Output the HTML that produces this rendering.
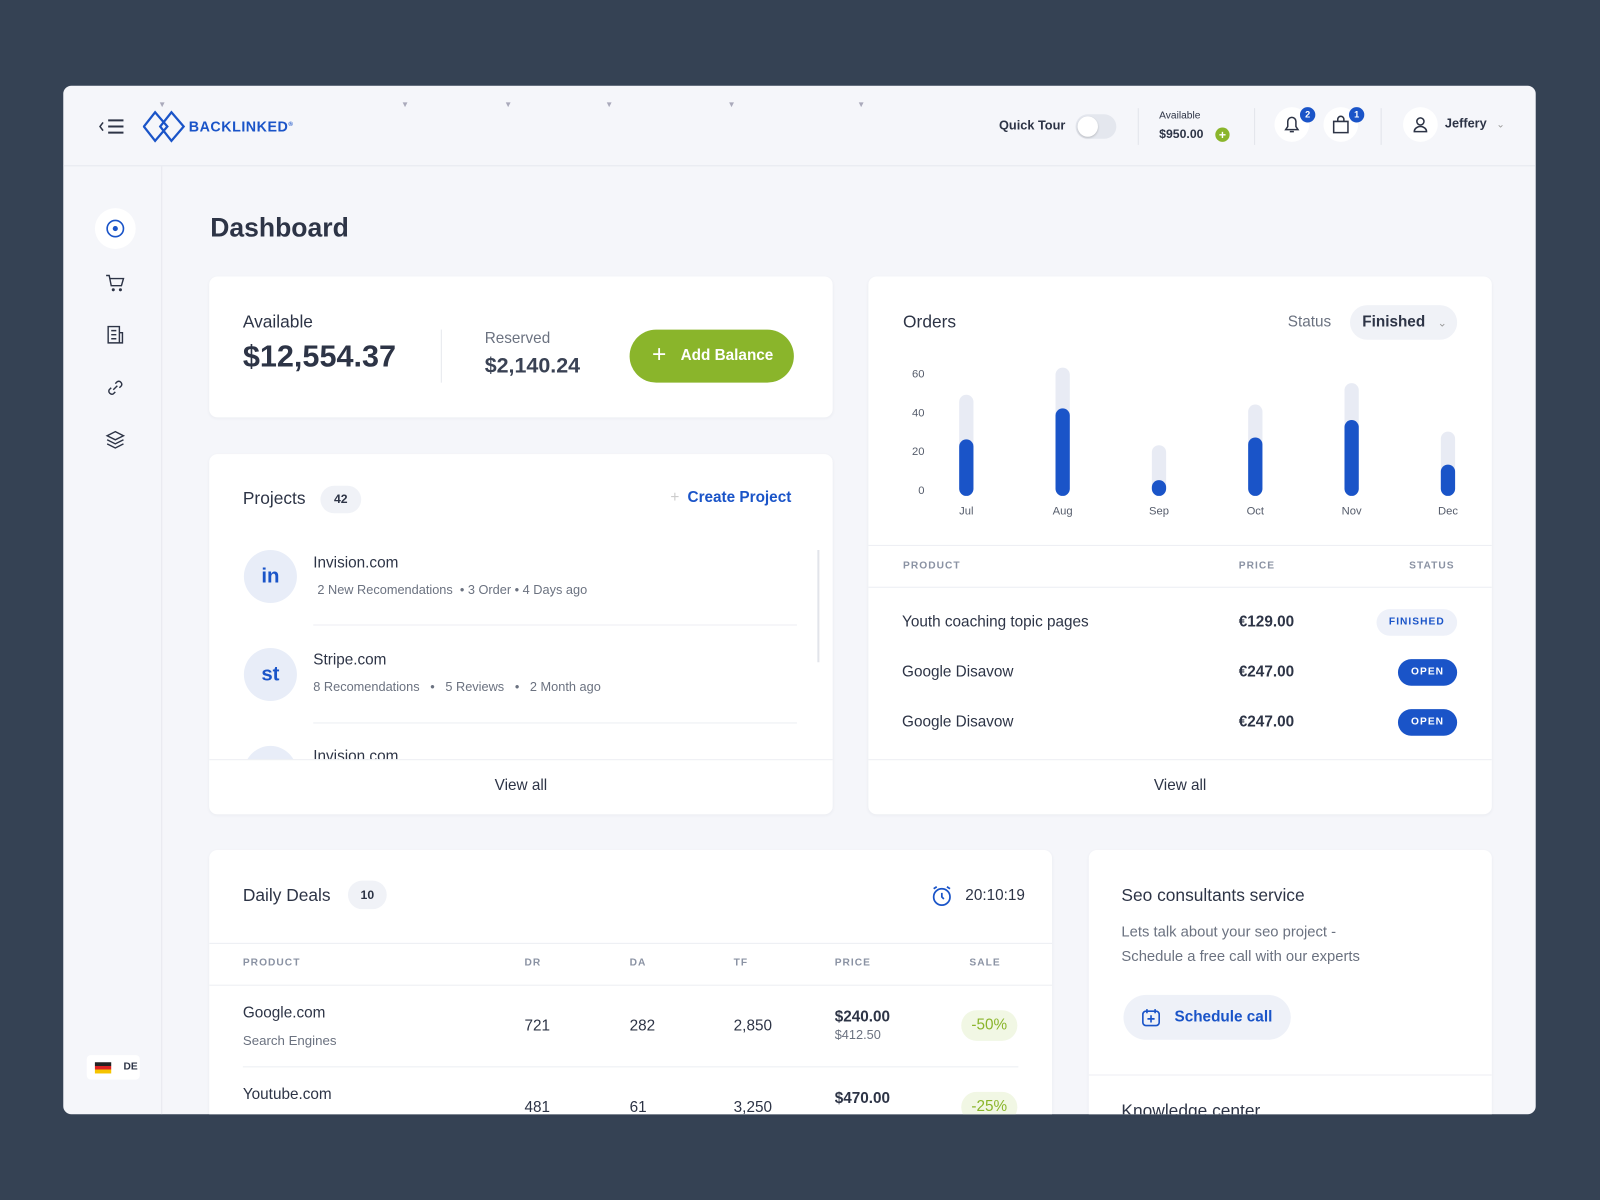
<!DOCTYPE html>
<html><head><meta charset="utf-8">
<style>
*{box-sizing:border-box;margin:0;padding:0}
html,body{width:1600px;height:1200px;overflow:hidden;background:#354254;font-family:"Liberation Sans",sans-serif;color:#2d3446}
#wrap{position:absolute;left:0;top:0;width:1568px;height:1176px;transform:scale(1.020408);transform-origin:0 0}
.a{position:absolute}
.card{position:absolute;background:#fff;border-radius:8px;box-shadow:0 1px 3px rgba(40,50,80,.05);overflow:hidden}
.muted{color:#6b7280}
.hd{font-size:10px;font-weight:bold;letter-spacing:1px;color:#8a92a3}
.line{position:absolute;height:1px;background:#eceef3}
.pill{position:absolute;border-radius:14px;font-size:10px;font-weight:bold;letter-spacing:1px;text-align:center}
</style></head><body>
<div id="wrap">
<div class="a" style="left:62px;top:84px;width:1443px;height:1008px;background:#f5f6fa;border-radius:8px;overflow:hidden">
  <div class="a" style="left:0;top:0;width:1443px;height:79px;border-bottom:1px solid #e6e8ee">
    <div class="a" style="left:34px;top:31px;width:28px;height:18px">
      <svg width="28" height="18"><path d="M5 5 L2 9 L5 13" stroke="#2d3446" stroke-width="1.5" fill="none"/><path d="M10 3h15M10 9h15M10 15h15" stroke="#2d3446" stroke-width="2"/></svg>
    </div>
    <div class="a" style="left:78px;top:24px;width:160px;height:32px">
      <svg width="42" height="32" class="a" style="left:0;top:0"><path d="M12 2 L24 16 L12 30 L1 16Z M28 2 L40 16 L28 30 L17 16Z" stroke="#1a54c8" stroke-width="2.2" fill="none"/></svg>
      <div class="a" style="left:45px;top:8px;font-size:14px;font-weight:bold;color:#1a54c8;letter-spacing:.5px">BACKLINKED<sup style="font-size:6px">®</sup></div>
    </div>
    <div class="a" style="left:93px;top:14px;font-size:8px;color:#aab">▼</div>
    <div class="a" style="left:331px;top:14px;font-size:8px;color:#aab">▼</div>
    <div class="a" style="left:432px;top:14px;font-size:8px;color:#aab">▼</div>
    <div class="a" style="left:531px;top:14px;font-size:8px;color:#aab">▼</div>
    <div class="a" style="left:651px;top:14px;font-size:8px;color:#aab">▼</div>
    <div class="a" style="left:778px;top:14px;font-size:8px;color:#aab">▼</div>
    <div class="a" style="left:917px;top:32px;font-size:12.5px;font-weight:bold">Quick Tour</div>
    <div class="a" style="left:992px;top:28px;width:40px;height:24px;border-radius:12px;background:#e4e7ee"><div class="a" style="left:2px;top:2px;width:20px;height:20px;border-radius:50%;background:#fff;box-shadow:0 1px 2px rgba(0,0,0,.2)"></div></div>
    <div class="a" style="left:1053px;top:22px;width:1px;height:36px;background:#e2e4ea"></div>
    <div class="a" style="left:1074px;top:24px;font-size:10px">Available</div>
    <div class="a" style="left:1074px;top:40px;font-size:12px;font-weight:bold">$950.00</div>
    <div class="a" style="left:1129px;top:41px;width:14px;height:14px;border-radius:50%;background:#8ab52b;color:#fff;font-size:12px;line-height:14px;text-align:center;font-weight:bold">+</div>
    <div class="a" style="left:1167px;top:22px;width:1px;height:36px;background:#e2e4ea"></div>
    <div class="a" style="left:1187px;top:21px;width:34px;height:34px;border-radius:50%;background:#fff">
      <svg width="34" height="34"><path d="M11 22 h12 l-2-3 v-5 a4 4 0 0 0-8 0 v5z M15 24 h4" stroke="#2d3446" stroke-width="1.5" fill="none"/></svg></div>
    <div class="a" style="left:1212px;top:21px;width:15px;height:15px;border-radius:50%;background:#1a54c8;color:#fff;font-size:9px;line-height:15px;text-align:center;font-weight:bold">2</div>
    <div class="a" style="left:1235px;top:21px;width:34px;height:34px;border-radius:50%;background:#fff">
      <svg width="34" height="34"><path d="M10 14 h14 v11 h-14z M14 14 v-2 a3 3 0 0 1 6 0 v2" stroke="#2d3446" stroke-width="1.5" fill="none"/></svg></div>
    <div class="a" style="left:1260px;top:21px;width:15px;height:15px;border-radius:50%;background:#1a54c8;color:#fff;font-size:9px;line-height:15px;text-align:center;font-weight:bold">1</div>
    <div class="a" style="left:1291px;top:22px;width:1px;height:36px;background:#e2e4ea"></div>
    <div class="a" style="left:1313px;top:21px;width:34px;height:34px;border-radius:50%;background:#fff">
      <svg width="34" height="34"><circle cx="17" cy="14" r="3.5" stroke="#2d3446" stroke-width="1.5" fill="none"/><path d="M11 24 a6 5 0 0 1 12 0z" stroke="#2d3446" stroke-width="1.5" fill="none"/></svg></div>
    <div class="a" style="left:1354px;top:30px;font-size:12.5px;font-weight:bold">Jeffery <span style="color:#999;font-weight:normal;font-size:10px;margin-left:6px">⌄</span></div>
  </div>
  <div class="a" style="left:0;top:79px;width:97px;height:929px;border-right:1px solid #e6e8ee">
    <div class="a" style="left:31px;top:41px;width:40px;height:40px;border-radius:50%;background:#fff"><svg width="40" height="40"><circle cx="20" cy="20" r="8" stroke="#1a54c8" stroke-width="1.6" fill="none"/><circle cx="20" cy="20" r="2.5" fill="#1a54c8"/></svg></div>
    <div class="a" style="left:41px;top:104px"><svg width="20" height="20"><path d="M1 3h3l2 10h10l2-7H5" stroke="#2d3446" stroke-width="1.4" fill="none"/><circle cx="8" cy="17" r="1.5" fill="#2d3446"/><circle cx="15" cy="17" r="1.5" fill="#2d3446"/></svg></div>
    <div class="a" style="left:41px;top:155px"><svg width="20" height="20"><path d="M3 2h11v16H3z M6 6h5M6 10h5M6 14h5 M14 8h3v10h-3" stroke="#2d3446" stroke-width="1.4" fill="none"/></svg></div>
    <div class="a" style="left:41px;top:207px"><svg width="20" height="20"><path d="M8 12 l4-4 M6 10 l-2 2 a3 3 0 0 0 4 4 l2-2 M14 10 l2-2 a3 3 0 0 0-4-4 l-2 2" stroke="#2d3446" stroke-width="1.4" fill="none"/></svg></div>
    <div class="a" style="left:41px;top:258px"><svg width="20" height="20"><path d="M10 2 L18 6 L10 10 L2 6Z M2 10 L10 14 L18 10 M2 14 L10 18 L18 14" stroke="#2d3446" stroke-width="1.4" fill="none"/></svg></div>
    <div class="a" style="left:23px;top:871px;width:52px;height:24px;background:#fff;border-radius:4px;font-size:10px;font-weight:bold;line-height:24px;padding-left:36px">DE
      <div class="a" style="left:8px;top:7px;width:16px;height:11px;background:linear-gradient(#222 33%,#d22 33% 66%,#f5c400 66%)"></div></div>
  </div>
  <div class="a" style="left:144px;top:124px;font-size:26px;font-weight:bold;color:#2d3446">Dashboard</div>
</div>

<div class="card" style="left:205px;top:271px;width:611px;height:138px">
  <div class="a" style="left:33px;top:35px;font-size:17px">Available</div>
  <div class="a" style="left:33px;top:62px;font-size:30px;font-weight:bold">$12,554.37</div>
  <div class="a" style="left:227px;top:52px;width:1px;height:52px;background:#e6e8ee"></div>
  <div class="a muted" style="left:270px;top:52px;font-size:15px">Reserved</div>
  <div class="a" style="left:270px;top:76px;font-size:21px;font-weight:bold;color:#3a4254">$2,140.24</div>
  <div class="a" style="left:412px;top:52px;width:161px;height:52px;border-radius:26px;background:#8ab52b;color:#fff;font-size:15px;font-weight:bold;line-height:52px;padding-left:50px">Add Balance<span class="a" style="left:22px;top:-1px;font-size:24px;font-weight:normal">+</span></div>
</div>

<div class="card" style="left:205px;top:445px;width:611px;height:353px">
  <div class="a" style="left:33px;top:34px;font-size:17px">Projects</div>
  <div class="a" style="left:109px;top:31px;width:40px;height:27px;border-radius:14px;background:#f0f2f7;font-size:12px;font-weight:bold;text-align:center;line-height:27px">42</div>
  <div class="a" style="left:452px;top:34px;font-size:15px;color:#1a54c8;font-weight:bold"><span style="color:#ccc;font-weight:normal;margin-right:8px">+</span>Create Project</div>
  <div class="a" style="left:34px;top:94px;width:52px;height:52px;border-radius:50%;background:#e8edf8;color:#1a54c8;font-size:20px;font-weight:bold;text-align:center;line-height:52px">in</div>
  <div class="a" style="left:102px;top:98px;font-size:15px">Invision.com</div>
  <div class="a muted" style="left:106px;top:126px;font-size:12.5px">2 New Recomendations &nbsp;• 3 Order • 4 Days ago</div>
  <div class="line" style="left:102px;top:167px;width:474px"></div>
  <div class="a" style="left:34px;top:190px;width:52px;height:52px;border-radius:50%;background:#e8edf8;color:#1a54c8;font-size:20px;font-weight:bold;text-align:center;line-height:52px">st</div>
  <div class="a" style="left:102px;top:193px;font-size:15px">Stripe.com</div>
  <div class="a muted" style="left:102px;top:221px;font-size:12.5px">8 Recomendations &nbsp;&nbsp;• &nbsp;&nbsp;5 Reviews &nbsp;&nbsp;• &nbsp;&nbsp;2 Month ago</div>
  <div class="line" style="left:102px;top:263px;width:474px"></div>
  <div class="a" style="left:34px;top:286px;width:52px;height:52px;border-radius:50%;background:#e8edf8"></div>
  <div class="a" style="left:102px;top:288px;font-size:15px">Invision.com</div>
  <div class="a" style="left:596px;top:94px;width:2px;height:110px;background:#e2e4ea"></div>
  <div class="a" style="left:0;top:299px;width:611px;height:54px;background:#fff;border-top:1px solid #eceef3"></div>
  <div class="a" style="left:0;top:316px;width:611px;text-align:center;font-size:15px">View all</div>
</div>

<div class="card" style="left:851px;top:271px;width:611px;height:527px">
  <div class="a" style="left:34px;top:35px;font-size:17px">Orders</div>
  <div class="a muted" style="left:411px;top:36px;font-size:15px">Status</div>
  <div class="a" style="left:472px;top:28px;width:105px;height:34px;border-radius:17px;background:#f0f2f7;font-size:15px;font-weight:bold;line-height:34px;padding-left:12px">Finished <span style="color:#999;font-weight:normal;font-size:11px;margin-left:8px">⌄</span></div>
  <svg id="chart" class="a" style="left:0;top:80px" width="611" height="160"></svg>
  <div class="line" style="left:0;top:263px;width:611px"></div>
  <div class="a hd" style="left:34px;top:278px">PRODUCT</div>
  <div class="a hd" style="left:363px;top:278px">PRICE</div>
  <div class="a hd" style="left:530px;top:278px">STATUS</div>
  <div class="line" style="left:0;top:304px;width:611px"></div>
  <div class="a" style="left:33px;top:330px;font-size:15px">Youth coaching topic pages</div>
  <div class="a" style="left:363px;top:330px;font-size:15px;font-weight:bold">€129.00</div>
  <div class="pill" style="left:498px;top:326px;width:79px;height:26px;line-height:26px;background:#eef1f9;color:#1a54c8">FINISHED</div>
  <div class="a" style="left:33px;top:379px;font-size:15px">Google Disavow</div>
  <div class="a" style="left:363px;top:379px;font-size:15px;font-weight:bold">€247.00</div>
  <div class="pill" style="left:519px;top:375px;width:58px;height:26px;line-height:26px;background:#1a54c8;color:#fff">OPEN</div>
  <div class="a" style="left:33px;top:428px;font-size:15px">Google Disavow</div>
  <div class="a" style="left:363px;top:428px;font-size:15px;font-weight:bold">€247.00</div>
  <div class="pill" style="left:519px;top:424px;width:58px;height:26px;line-height:26px;background:#1a54c8;color:#fff">OPEN</div>
  <div class="line" style="left:0;top:473px;width:611px"></div>
  <div class="a" style="left:0;top:490px;width:611px;text-align:center;font-size:15px">View all</div>
</div>

<div class="card" style="left:205px;top:833px;width:826px;height:259px;border-radius:8px 8px 0 0">
  <div class="a" style="left:33px;top:35px;font-size:17px">Daily Deals</div>
  <div class="a" style="left:136px;top:30px;width:38px;height:28px;border-radius:14px;background:#f0f2f7;font-size:12px;font-weight:bold;text-align:center;line-height:28px">10</div>
  <svg class="a" style="left:707px;top:34px" width="22" height="22"><circle cx="11" cy="12" r="8" stroke="#1a54c8" stroke-width="1.7" fill="none"/><path d="M11 8v4l2 2 M3 4l3-2 M19 4l-3-2" stroke="#1a54c8" stroke-width="1.7" fill="none"/></svg>
  <div class="a" style="left:741px;top:36px;font-size:15px">20:10:19</div>
  <div class="line" style="left:0;top:91px;width:826px"></div>
  <div class="a hd" style="left:33px;top:105px">PRODUCT</div>
  <div class="a hd" style="left:309px;top:105px">DR</div>
  <div class="a hd" style="left:412px;top:105px">DA</div>
  <div class="a hd" style="left:514px;top:105px">TF</div>
  <div class="a hd" style="left:613px;top:105px">PRICE</div>
  <div class="a hd" style="left:745px;top:105px">SALE</div>
  <div class="line" style="left:0;top:132px;width:826px"></div>
  <div class="a" style="left:33px;top:151px;font-size:15px">Google.com</div>
  <div class="a muted" style="left:33px;top:179px;font-size:13px">Search Engines</div>
  <div class="a" style="left:309px;top:164px;font-size:15px">721</div>
  <div class="a" style="left:412px;top:164px;font-size:15px">282</div>
  <div class="a" style="left:514px;top:164px;font-size:15px">2,850</div>
  <div class="a" style="left:613px;top:155px;font-size:15px;font-weight:bold">$240.00</div>
  <div class="a muted" style="left:613px;top:174px;font-size:12.5px">$412.50</div>
  <div class="a" style="left:737px;top:157px;width:55px;height:30px;border-radius:15px;background:#f1f7e4;color:#8ab52b;font-size:15px;text-align:center;line-height:30px">-50%</div>
  <div class="line" style="left:33px;top:212px;width:760px"></div>
  <div class="a" style="left:33px;top:231px;font-size:15px">Youtube.com</div>
  <div class="a" style="left:309px;top:244px;font-size:15px">481</div>
  <div class="a" style="left:412px;top:244px;font-size:15px">61</div>
  <div class="a" style="left:514px;top:244px;font-size:15px">3,250</div>
  <div class="a" style="left:613px;top:235px;font-size:15px;font-weight:bold">$470.00</div>
  <div class="a" style="left:737px;top:237px;width:55px;height:30px;border-radius:15px;background:#f1f7e4;color:#8ab52b;font-size:15px;text-align:center;line-height:30px">-25%</div>
</div>

<div class="card" style="left:1067px;top:833px;width:395px;height:259px;border-radius:8px 8px 0 0">
  <div class="a" style="left:32px;top:35px;font-size:17px">Seo consultants service</div>
  <div class="a muted" style="left:32px;top:69px;font-size:14.5px;line-height:24px">Lets talk about your seo project -<br>Schedule a free call with our experts</div>
  <div class="a" style="left:34px;top:142px;width:164px;height:44px;border-radius:22px;background:#eef1f8;color:#1a54c8;font-size:15px;font-weight:bold;line-height:44px;padding-left:50px">Schedule call
    <svg class="a" style="left:18px;top:13px" width="18" height="18"><rect x="1" y="3" width="16" height="14" rx="3" stroke="#1a54c8" stroke-width="1.6" fill="none"/><path d="M5 1v4M13 1v4M9 7v7M5.5 10.5h7" stroke="#1a54c8" stroke-width="1.6"/></svg></div>
  <div class="line" style="left:0;top:220px;width:395px"></div>
  <div class="a" style="left:32px;top:246px;font-size:17px">Knowledge center</div>
</div>
</div>

<script>
const months = ["Jul","Aug","Sep","Oct","Nov","Dec"];
const finished = [26,42,5,27,36,13];
const totals = [49,63,23,44,55,30];
const yTicks = [0,20,40,60];
const svg = document.getElementById('chart');
const NS = 'http://www.w3.org/2000/svg';
const y0 = 129, pxPerUnit = 1.9;
function yScale(v){return y0 - v*pxPerUnit;}
function xScale(i){return 96 + i*94.4;}
yTicks.forEach(t=>{
  const tx=document.createElementNS(NS,'text');
  
  
  tx.setAttribute('x',55);tx.setAttribute('y',yScale(t)+4);
  tx.setAttribute('text-anchor','end');tx.setAttribute('font-size','11');tx.setAttribute('fill','#555c6b');
  tx.textContent=t;svg.appendChild(tx);
});
months.forEach((m,i)=>{
  const cx=xScale(i), w=14;
  const bg=document.createElementNS(NS,'rect');
  
  
  bg.setAttribute('x',cx-w/2);bg.setAttribute('y',yScale(totals[i]));
  bg.setAttribute('width',w);bg.setAttribute('height',totals[i]*pxPerUnit+6);
  bg.setAttribute('rx',w/2);bg.setAttribute('fill','#e8ebf4');svg.appendChild(bg);
  const fg=document.createElementNS(NS,'rect');
  
  
  fg.setAttribute('x',cx-w/2);fg.setAttribute('y',yScale(finished[i]));
  fg.setAttribute('width',w);fg.setAttribute('height',finished[i]*pxPerUnit+6);
  fg.setAttribute('rx',w/2);fg.setAttribute('fill','#1a54c8');svg.appendChild(fg);
  const tx=document.createElementNS(NS,'text');
  
  
  tx.setAttribute('x',cx);tx.setAttribute('y',y0+24);tx.setAttribute('text-anchor','middle');
  tx.setAttribute('font-size','11');tx.setAttribute('fill','#555c6b');tx.textContent=m;svg.appendChild(tx);
});
</script>
</body></html>
